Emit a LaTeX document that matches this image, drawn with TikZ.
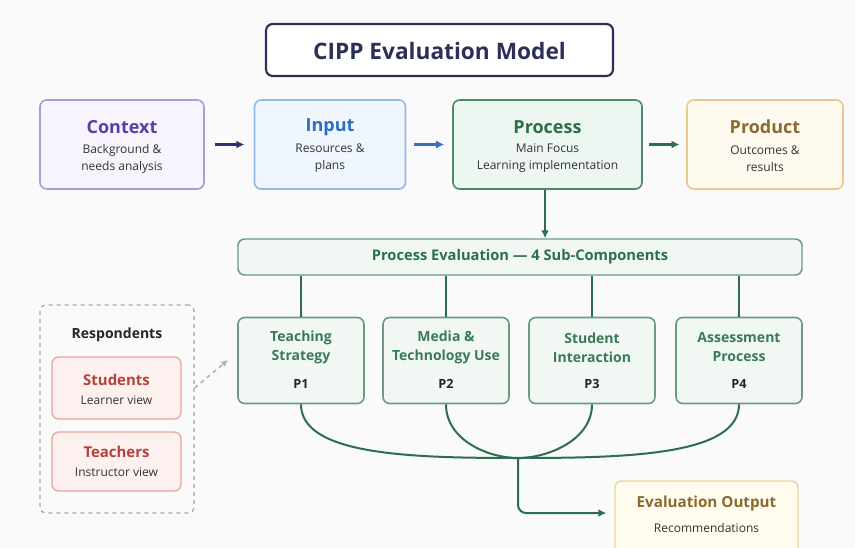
\documentclass[tikz,border=0pt]{standalone}
\usepackage{fontspec}
\setmainfont{Open Sans}
\usetikzlibrary{arrows.meta,calc}

\definecolor{bgc}{HTML}{FAFAFA}
\definecolor{navy}{HTML}{2B3058}
\definecolor{navyarrow}{HTML}{2E3370}
\definecolor{ctxborder}{HTML}{A99CDA}
\definecolor{ctxfill}{HTML}{F7F4FD}
\definecolor{ctxtext}{HTML}{5A3EA8}
\definecolor{inpborder}{HTML}{92B9E8}
\definecolor{inpfill}{HTML}{EFF6FD}
\definecolor{inptext}{HTML}{2F6BBF}
\definecolor{inparrow}{HTML}{3A6DBE}
\definecolor{prcborder}{HTML}{4B8A68}
\definecolor{prcfill}{HTML}{EEF6F1}
\definecolor{prctext}{HTML}{2A7048}
\definecolor{prdborder}{HTML}{E9CA8C}
\definecolor{prdfill}{HTML}{FFFAF0}
\definecolor{prdtext}{HTML}{8A6A2E}
\definecolor{subborder}{HTML}{6B9A80}
\definecolor{subfill}{HTML}{F1F7F3}
\definecolor{subtext}{HTML}{3A7A58}
\definecolor{link}{HTML}{2E6E50}
\definecolor{resborder}{HTML}{E3A59C}
\definecolor{resfill}{HTML}{FDF1EF}
\definecolor{restext}{HTML}{B5413A}
\definecolor{outborder}{HTML}{EDD49C}
\definecolor{outfill}{HTML}{FFFBEF}
\definecolor{bodytext}{HTML}{333333}

\tikzset{
  box/.style={draw, rounded corners=5pt, line width=1.2pt, inner sep=0pt},
  phase/.style={box, minimum height=66.75pt},
  subbox/.style={box, draw=subborder, fill=subfill, minimum width=94.5pt, minimum height=64.5pt},
  resbox/.style={box, draw=resborder, fill=resfill, minimum width=96.75pt, line width=1pt},
  txt/.style={inner sep=0pt, align=center},
  headline/.style={txt, font=\fontsize{13.5}{16}\selectfont\bfseries},
  sublines/.style={txt, text=bodytext, font=\fontsize{9}{12.75}\selectfont},
  subhead/.style={txt, text=subtext, font=\fontsize{10.5}{14.25}\selectfont\bfseries},
  plabel/.style={txt, text=black!85, font=\fontsize{9.5}{11}\selectfont\bfseries},
  flow/.style={line width=1.6pt, -{Latex[length=6pt,width=6pt]}},
  tree/.style={draw=link, line width=1.5pt},
}

\begin{document}
\begin{tikzpicture}[x=0.75pt,y=-0.75pt]
  % canvas
  \path[fill=bgc] (0,0) rectangle (855,548);
  \useasboundingbox (0,0) rectangle (855,548);

  % heading
  \node[box, draw=navy, fill=white, line width=1.6pt, minimum width=260.25pt, minimum height=39pt]
    (title) at (439.5,50) {};
  \node[txt, text=navy, font=\fontsize{17}{20}\selectfont\bfseries] (titleT) at (439.5,51) {CIPP Evaluation Model};

  % the four CIPP phases
  \node[phase, draw=ctxborder, fill=ctxfill, minimum width=123pt] (ctx) at (122,144.5) {};
  \node[headline, text=ctxtext] (ctxT) at (122,127) {Context};
  \node[sublines] (ctxS) at (122,158.5) {Background \&\\needs analysis};

  \node[phase, draw=inpborder, fill=inpfill, minimum width=113.25pt] (inp) at (330,144.5) {};
  \node[headline, text=inptext] (inpT) at (330,127) {Input};
  \node[sublines] (inpS) at (330,158.5) {Resources \&\\plans};

  \node[phase, draw=prcborder, fill=prcfill, minimum width=141.75pt] (prc) at (547.5,144.5) {};
  \node[headline, text=prctext] (prcT) at (547.5,127) {Process};
  \node[sublines] (prcS) at (547.5,158.5) {Main Focus\\Learning implementation};

  \node[phase, draw=prdborder, fill=prdfill, minimum width=117pt] (prd) at (765,144.5) {};
  \node[headline, text=prdtext] (prdT) at (765,127) {Product};
  \node[sublines] (prdS) at (765,158.5) {Outcomes \&\\results};

  \draw[flow, draw=navyarrow, shorten <=8pt, shorten >=7pt] (ctx) -- (inp);
  \draw[flow, draw=inparrow, shorten <=6pt, shorten >=6pt] (inp) -- (prc);
  \draw[flow, draw=link, shorten <=5pt, shorten >=5pt] (prc) -- (prd);

  % process evaluation bar
  \node[box, draw=subborder, fill=subfill, line width=1.1pt, minimum width=423pt, minimum height=27pt]
    (bar) at (520,257) {};
  \node[txt, text=link, font=\fontsize{11}{13}\selectfont\bfseries] (barT) at (520,257)
    {Process Evaluation --- 4 Sub-Components};
  \draw[flow, draw=link] (prc.south -| 545,0) -- (bar.north -| 545,0);

  % sub-components
  \node[subbox] (p1) at (301,360.5) {};
  \node[subbox] (p2) at (446,360.5) {};
  \node[subbox] (p3) at (592,360.5) {};
  \node[subbox] (p4) at (739,360.5) {};
  \node[subhead] (p1T) at (301,347.5) {Teaching\\Strategy};
  \node[subhead] (p2T) at (446,347.5) {Media \&\\Technology Use};
  \node[subhead] (p3T) at (592,347.5) {Student\\Interaction};
  \node[subhead] (p4T) at (739,347.5) {Assessment\\Process};
  \node[plabel] (p1L) at (301,384) {P1};
  \node[plabel] (p2L) at (446,384) {P2};
  \node[plabel] (p3L) at (592,384) {P3};
  \node[plabel] (p4L) at (739,384) {P4};

  \foreach \p in {p1,p2,p3,p4}
    \draw[tree] (bar.south -| \p.north) -- (\p.north);

  % merging into the evaluation output
  \coordinate (merge) at (518,458);
  \draw[tree] (p1.south) .. controls (301,455) and (410,458) .. (merge);
  \draw[tree] (p2.south) .. controls (446,440) and (488,458) .. (merge);
  \draw[tree] (p3.south) .. controls (592,440) and (548,458) .. (merge);
  \draw[tree] (p4.south) .. controls (739,455) and (630,458) .. (merge);

  \node[box, draw=outborder, fill=outfill, line width=1.1pt, minimum width=137.25pt, minimum height=55.5pt]
    (out) at (706.5,518) {};
  \node[txt, text=prdtext, font=\fontsize{11.4}{13}\selectfont\bfseries] (outT) at (706.5,504) {Evaluation Output};
  \node[sublines] (outS) at (706.5,528) {Recommendations};
  \draw[tree, rounded corners=6pt, -{Latex[length=6pt,width=6pt]}] (merge) |- ($(out.west)+(-8,-5)$);

  % respondents
  \node[draw=gray!70, dashed, line width=0.9pt, rounded corners=4pt, minimum width=115.5pt, minimum height=156pt, inner sep=0pt]
    (resp) at (117,409) {};
  \node[txt, text=black!85, font=\fontsize{10.5}{12}\selectfont\bfseries] (respT) at (117,335) {Respondents};
  \node[resbox, minimum height=46.5pt] (stu) at (116.5,388) {};
  \node[txt, text=restext, font=\fontsize{11.2}{13}\selectfont\bfseries] (stuT) at (116.5,380) {Students};
  \node[sublines] (stuS) at (116.5,400) {Learner view};
  \node[resbox, minimum height=44.25pt] (tea) at (116.5,461.5) {};
  \node[txt, text=restext, font=\fontsize{11.2}{13}\selectfont\bfseries] (teaT) at (116.5,452) {Teachers};
  \node[sublines] (teaS) at (116.5,472) {Instructor view};

  \coordinate (respTip) at (228,360);
  \draw[draw=gray!60, dashed, line width=1.2pt, -{Latex[length=5pt,width=5pt]}] (stu.east -| resp.east) -- (respTip);
\end{tikzpicture}
\end{document}
